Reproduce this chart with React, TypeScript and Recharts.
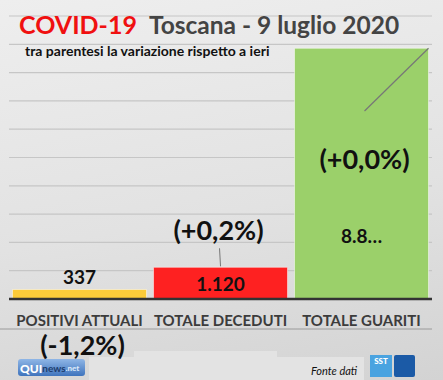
import { BarChart, Bar, XAxis, YAxis, CartesianGrid, Cell, LabelList } from 'recharts';

const CATEGORIES = ['POSITIVI ATTUALI', 'TOTALE DECEDUTI', 'TOTALE GUARITI'];
const VALUES = [337, 1120, 8860];
const VALUE_LABELS = ['337', '1.120', '8.8…'];
const CHANGE_LABELS = ['(-1,2%)', '(+0,2%)', '(+0,0%)'];
const COLORS = ['#fbcb3a', '#fe2121', '#9bd06a'];
const Y_TICKS = [0, 1000, 2000, 3000, 4000, 5000, 6000, 7000, 8000, 9000, 10000];

const FONT = 'Lato, "Open Sans", sans-serif';

const data = CATEGORIES.map((name, i) => ({
  name,
  value: VALUES[i],
  valueLabel: VALUE_LABELS[i],
  change: CHANGE_LABELS[i],
}));

// where each bar's two labels sit, relative to the bar (dy from bar top / base)
const LAYOUT = [
  { value: { from: 'top', dy: -13 }, change: { from: 'base', dy: 45 }, leader: null },
  { value: { from: 'mid', dy: 0 }, change: { from: 'top', dy: -38 }, leader: 'up' },
  { value: { from: 'base', dy: -64 }, change: { from: 'base', dy: -141 }, leader: 'corner' },
];

function anchorY(from: string, y: number, h: number) {
  if (from === 'top') return y;
  if (from === 'mid') return y + h / 2;
  return y + h;
}

function ValueLabel(props: any) {
  const { x = 0, y = 0, width = 0, height = 0, index = 0, value } = props;
  const l = LAYOUT[index].value;
  const cy = anchorY(l.from, y, height) + l.dy;
  return (
    <text x={x + width / 2} y={cy} textAnchor="middle" dominantBaseline="central"
      fontFamily={FONT} fontWeight={700} fontSize={19} fill="#111">
      {value}
    </text>
  );
}

function ChangeLabel(props: any) {
  const { x = 0, y = 0, width = 0, height = 0, index = 0, value } = props;
  const l = LAYOUT[index];
  const cx = x + width / 2;
  const cy = anchorY(l.change.from, y, height) + l.change.dy;
  return (
    <g>
      {l.leader === 'up' && <line x1={cx - 1} y1={cy + 19} x2={cx} y2={y - 1} stroke="#777" strokeWidth={1} />}
      {l.leader === 'corner' && <line x1={cx + 3} y1={cy - 47} x2={x + width} y2={y} stroke="#777" strokeWidth={1.2} />}
      <text x={cx + (index === 0 ? 3 : index === 1 ? -2 : 3)} y={cy} textAnchor="middle" dominantBaseline="central"
        fontFamily={FONT} fontWeight={700} fontSize={27} fill="#111">
        {value}
      </text>
    </g>
  );
}

function CategoryTick(props: any) {
  const { x = 0, y = 0, payload } = props;
  return (
    <text x={x} y={y + 13} textAnchor="middle" dominantBaseline="central"
      fontFamily={FONT} fontWeight={700} fontSize={15} fill="#3c3c3c">
      {payload?.value}
    </text>
  );
}

export default function App() {
  return (
    <div style={{ position: 'absolute', left: 0, top: 0, width: 443, height: 380, overflow: 'hidden',
      background: 'linear-gradient(170deg, #eeeeee 0%, #e2e2e2 55%, #d3d3d3 100%)' }}>
      <svg width={443} height={380} style={{ position: 'absolute', left: 0, top: 0 }}>
        <rect x={134} y={351} width={143} height={8} fill="#e3e3e3" />
        <rect x={89} y={357} width={275} height={23} fill="#e3e3e3" />
        <line x1={0} y1={329} x2={432} y2={329} stroke="#9a9a9a" strokeWidth={1} />
        <defs>
          <linearGradient id="qui" x1="0" y1="0" x2="0" y2="1">
            <stop offset="0%" stopColor="#8fb6e6" />
            <stop offset="100%" stopColor="#3f74bd" />
          </linearGradient>
        </defs>
        <rect x={18} y={359} width={67} height={17} rx={3} fill="url(#qui)" />
        <text x={20} y={368} dominantBaseline="central" fontFamily={FONT} fontWeight={900} fontSize={12}>
          <tspan fill="#fff">QUI</tspan>
          <tspan fill="#1d3d6e" fontSize={10} fontWeight={700}>news</tspan>
          <tspan fill="#dbe8f8" fontSize={8}>.net</tspan>
        </text>
        <text x={311} y={370} dominantBaseline="central" fontFamily={FONT} fontStyle="italic" fontSize={11} fill="#111">
          Fonte dati
        </text>
        <rect x={370} y={355} width={22} height={22} fill="#4aa3e0" />
        <text x={381} y={361} textAnchor="middle" dominantBaseline="central" fontFamily={FONT} fontWeight={900} fontSize={8} fill="#fff">SST</text>
        <rect x={394} y={355} width={21} height={22} rx={2} fill="#1b5aa6" />
      </svg>
      <div style={{ position: 'absolute', left: 0, top: 0 }}>
        <BarChart width={443} height={380} data={data}
          margin={{ top: 16, right: 11, bottom: 51, left: 9 }} barCategoryGap="2.5%">
          <CartesianGrid vertical={false} stroke="#c6c6c6" strokeWidth={1.2} />
          <YAxis hide domain={[0, 10000]} ticks={Y_TICKS} />
          <XAxis dataKey="name" tick={<CategoryTick />} tickLine={false} interval={0}
            axisLine={{ stroke: '#333', strokeWidth: 2.5 }} height={30} />
          <Bar dataKey="value" isAnimationActive={false} stroke="rgba(255,255,255,0.5)" strokeWidth={1}>
            {data.map((d, i) => <Cell key={d.name} fill={COLORS[i]} />)}
            <LabelList dataKey="valueLabel" content={<ValueLabel />} />
            <LabelList dataKey="change" content={<ChangeLabel />} />
          </Bar>
        </BarChart>
      </div>
      <svg width={443} height={380} style={{ position: 'absolute', left: 0, top: 0, pointerEvents: 'none' }}>
        <text x={19} y={24} dominantBaseline="central" fontFamily={FONT} fontWeight={700} fontSize={24.5}>
          <tspan fill="#f01010" fontSize={25}>COVID-19</tspan>
          <tspan fill="#444" dx={12}>Toscana - 9 luglio 2020</tspan>
        </text>
        <text x={25} y={50} dominantBaseline="central" fontFamily={FONT} fontWeight={700} fontSize={14} fill="#111">
          tra parentesi la variazione rispetto a ieri
        </text>
      </svg>
    </div>
  );
}
